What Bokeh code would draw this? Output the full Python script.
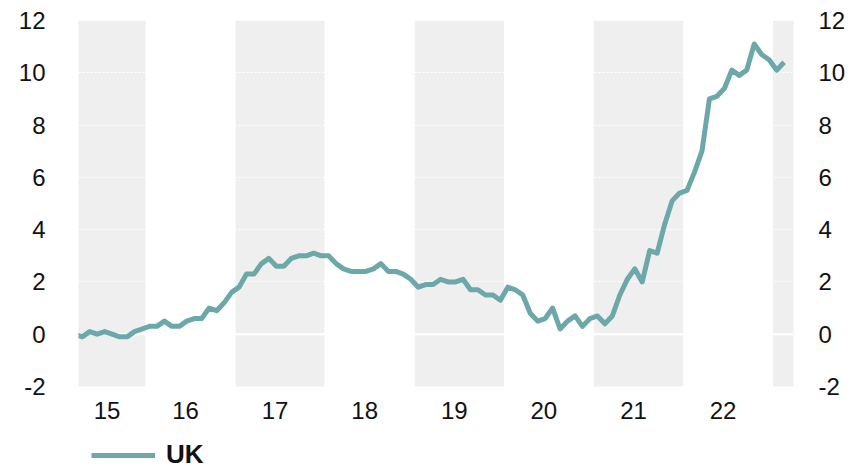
from bokeh.plotting import figure
from bokeh.models import FixedTicker, LinearAxis, Span, Legend, LegendItem, ColumnDataSource
from bokeh.embed import file_html
from bokeh.resources import INLINE

# ---- data: UK CPI inflation, % y/y, monthly from Mar 2015 ----
start_year = 2015
start_month = 3
uk = [
    0.0, -0.1, 0.1, 0.0, 0.1, 0.0, -0.1, -0.1, 0.1, 0.2,            # 2015 Mar-Dec
    0.3, 0.3, 0.5, 0.3, 0.3, 0.5, 0.6, 0.6, 1.0, 0.9, 1.2, 1.6,     # 2016
    1.8, 2.3, 2.3, 2.7, 2.9, 2.6, 2.6, 2.9, 3.0, 3.0, 3.1, 3.0,     # 2017
    3.0, 2.7, 2.5, 2.4, 2.4, 2.4, 2.5, 2.7, 2.4, 2.4, 2.3, 2.1,     # 2018
    1.8, 1.9, 1.9, 2.1, 2.0, 2.0, 2.1, 1.7, 1.7, 1.5, 1.5, 1.3,     # 2019
    1.8, 1.7, 1.5, 0.8, 0.5, 0.6, 1.0, 0.2, 0.5, 0.7, 0.3, 0.6,     # 2020
    0.7, 0.4, 0.7, 1.5, 2.1, 2.5, 2.0, 3.2, 3.1, 4.2, 5.1, 5.4,     # 2021
    5.5, 6.2, 7.0, 9.0, 9.1, 9.4, 10.1, 9.9, 10.1, 11.1, 10.7, 10.5,  # 2022
    10.1, 10.4,                                                      # 2023 Jan-Feb
]
series_name = "UK"
shaded_years = [2015, 2017, 2019, 2021, 2023]
label_years = [2015, 2016, 2017, 2018, 2019, 2020, 2021, 2022]
year_labels = ["15", "16", "17", "18", "19", "20", "21", "22"]
y_ticks = [-2, 0, 2, 4, 6, 8, 10, 12]
y_labels = ["-2", "0", "2", "4", "6", "8", "10", "12"]

# monthly positions (mid-month) as fractional years
x = [start_year + (start_month - 1 + i + 0.5) / 12.0 for i in range(len(uk))]

X0, X1 = 2015.25, 2023.23
Y0, Y1 = -2, 12
# the frame runs on below -2 to leave room for the axis labels and legend
PX_PER_UNIT = 366.0 / (Y1 - Y0)
Y_FLOOR = Y0 - 83.0 / PX_PER_UNIT

p = figure(width=860, height=469, x_range=(X0, X1), y_range=(Y_FLOOR, Y1),
           output_backend="svg", toolbar_location=None,
           min_border_left=78, min_border_right=67, min_border_top=20,
           min_border_bottom=0)
p.outline_line_color = None
p.background_fill_color = "white"

# shaded alternate years
p.quad(left=shaded_years, right=[y + 1 for y in shaded_years],
       bottom=Y0, top=Y1, fill_color="#efefef", line_color=None, level="image")

# grids
p.ygrid.ticker = FixedTicker(ticks=[t for t in y_ticks if t not in (0, -2)])
p.ygrid.grid_line_color = "white"
p.ygrid.grid_line_dash = "2 2"
p.ygrid.grid_line_width = 1
p.xgrid.ticker = FixedTicker(ticks=list(range(2016, 2024)))
p.xgrid.grid_line_color = "white"
p.xgrid.grid_line_dash = "2 2"
p.xgrid.grid_line_width = 1

p.add_layout(Span(location=0, dimension="width", line_color="white",
                  line_width=2, level="underlay"))

# series
src = ColumnDataSource(data=dict(x=x, y=uk))
r = p.line("x", "y", source=src, line_color="#6ca7a9", line_width=5, line_join="round")

FONT = "Liberation Sans"

def style_axis(ax, standoff):
    ax.axis_line_color = None
    ax.major_tick_line_color = None
    ax.minor_tick_line_color = None
    ax.major_tick_out = 0
    ax.major_tick_in = 0
    ax.major_label_text_font = FONT
    ax.major_label_text_font_size = "24px"
    ax.major_label_text_color = "#111111"
    ax.major_label_standoff = standoff

# y axes
y_over = {t: lab for t, lab in zip(y_ticks, y_labels)}
p.yaxis.ticker = FixedTicker(ticks=y_ticks)
p.yaxis.major_label_overrides = y_over
style_axis(p.yaxis[0], 33)
ry = LinearAxis(ticker=FixedTicker(ticks=y_ticks), major_label_overrides=y_over)
style_axis(ry, 25)
p.add_layout(ry, "right")

# x axis: labels at (visible) year centres, drawn at y = -2
tick_pos = []
for yr in label_years:
    lo = max(yr, X0)
    hi = min(yr + 1, X1)
    tick_pos.append((lo + hi) / 2 - 0.056)
p.xaxis.ticker = FixedTicker(ticks=tick_pos)
p.xaxis.major_label_overrides = {t: lab for t, lab in zip(tick_pos, year_labels)}
p.xaxis.fixed_location = Y0
style_axis(p.xaxis[0], 15)

# legend
leg = Legend(items=[LegendItem(label=series_name, renderers=[r])],
             location=(13, -1), orientation="horizontal",
             label_text_font=FONT, label_text_font_style="bold",
             label_text_font_size="26px", label_text_color="#111111",
             glyph_width=64, glyph_height=20, label_standoff=11,
             padding=0, margin=0, spacing=0,
             border_line_color=None, background_fill_alpha=0)
p.add_layout(leg)

open("out.html", "w").write(file_html(p, INLINE))
